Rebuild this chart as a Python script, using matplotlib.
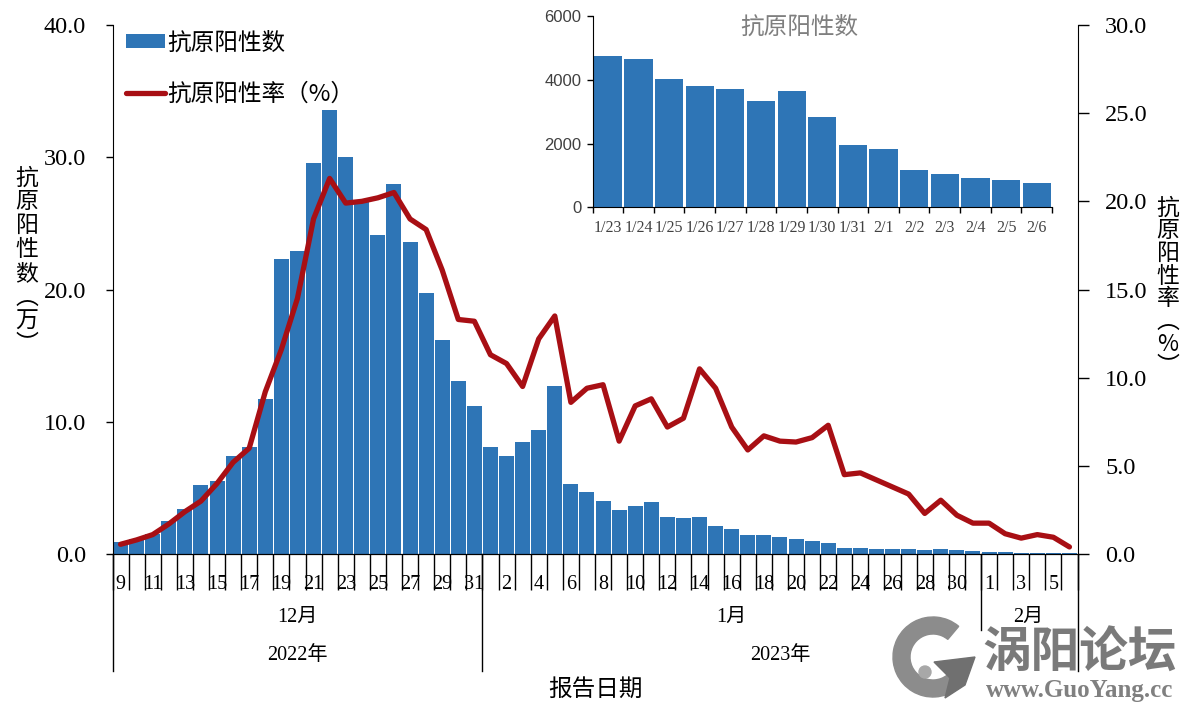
import numpy as np
import matplotlib
matplotlib.use("Agg")
import matplotlib.pyplot as plt
from matplotlib.patches import Wedge, Circle, Polygon

plt.rcParams['font.family'] = ['Liberation Serif', 'Noto Sans CJK SC']

# Dane
days = [str(d) for d in range(9, 32)] + [str(d) for d in range(1, 32)] + [str(d) for d in range(1, 7)]
positive_count = [0.9, 1.1, 1.5, 2.5, 3.4, 5.2, 5.5, 7.4, 8.1, 11.7, 22.3, 22.9, 29.6, 33.6, 30.0, 26.6, 24.1, 28.0,
                  23.6, 19.7, 16.2, 13.1, 11.2, 8.1, 7.4, 8.5, 9.4, 12.7, 5.3, 4.7, 4.0, 3.3, 3.65, 3.9, 2.8, 2.7,
                  2.8, 2.15, 1.9, 1.45, 1.45, 1.3, 1.15, 0.95, 0.8, 0.48, 0.47, 0.40, 0.38, 0.37, 0.33, 0.37, 0.28,
                  0.20, 0.18, 0.12, 0.10, 0.09, 0.09, 0.08]
positive_rate = [0.55, 0.8, 1.1, 1.7, 2.4, 3.0, 4.0, 5.2, 6.0, 9.2, 11.6, 14.5, 19.0, 21.3, 19.9, 20.0, 20.2, 20.5,
                 19.0, 18.4, 16.1, 13.3, 13.2, 11.3, 10.8, 9.5, 12.2, 13.5, 8.6, 9.4, 9.6, 6.4, 8.4, 8.8, 7.2, 7.7,
                 10.5, 9.4, 7.2, 5.9, 6.7, 6.4, 6.35, 6.6, 7.3, 4.5, 4.6, 4.2, 3.8, 3.4, 2.3, 3.05, 2.2, 1.75, 1.75,
                 1.15, 0.9, 1.1, 0.95, 0.4]
inset_dates = ["1/23", "1/24", "1/25", "1/26", "1/27", "1/28", "1/29", "1/30", "1/31", "2/1", "2/2", "2/3", "2/4",
               "2/5", "2/6"]
inset_count = [4750, 4650, 4030, 3800, 3720, 3350, 3650, 2840, 1960, 1830, 1170, 1040, 920, 860, 760]
left_ticks = [0, 10, 20, 30, 40]
right_ticks = [0, 5, 10, 15, 20, 25, 30]
inset_ticks = [0, 2000, 4000, 6000]
month_ends = [23, 54]  # indeks pierwszego dnia nowego miesiaca

W, H = 1191, 710
BLUE = "#2e75b6"
RED = "#a80f14"
CJK = "Noto Sans CJK SC"


def box(x0, y0, x1, y1):
    # piksele obrazu -> ulamki figury
    return [x0 / W, 1 - y1 / H, (x1 - x0) / W, (y1 - y0) / H]


def px(x, y):
    return x / W, 1 - y / H


fig = plt.figure(figsize=(W / 100, H / 100), dpi=100)
ax = fig.add_axes(box(112.5, 25, 1077.5, 554))
x = np.arange(len(days))

bars = ax.bar(x, positive_count, width=0.93, color=BLUE, label="抗原阳性数")
ax.set_xlim(-0.5, len(days) - 0.5)
ax.set_ylim(0, 40)
ax.set_yticks(left_ticks)
ax.set_yticklabels([f"{v:.1f}" for v in left_ticks], fontsize=17.5)
ax.tick_params(axis='y', length=5, width=1, pad=14)
ax.spines['top'].set_visible(False)
ax.spines['right'].set_visible(False)

# Os X: kreski miedzy dniami, podpisy co drugi dzien
ax.set_xticks(np.arange(len(days) + 1) - 0.5)
ax.set_xticklabels([])
ax.tick_params(axis='x', which='major', length=26, width=1)
ax.set_xticks(x[::2], days[::2], minor=True)
ax.tick_params(axis='x', which='minor', length=0, pad=15, labelsize=14.5)

ax2 = ax.twinx()
line, = ax2.plot(x, positive_rate, color=RED, lw=3.8, solid_capstyle='round', label="抗原阳性率（%）")
ax2.set_ylim(0, 30)
ax2.set_yticks(right_ticks)
ax2.set_yticklabels([f"{v:.1f}" for v in right_ticks], fontsize=17.5)
ax2.tick_params(axis='y', length=8, width=1, pad=12)
ax2.spines['top'].set_visible(False)
ax2.spines['left'].set_visible(False)

# Dlugie kreski pod osia (miesiace, lata)
trans = ax.get_xaxis_transform()
depth_short = -(630 - 554) / (554 - 25)
depth_long = -(671 - 554) / (554 - 25)
for xpos, depth in [(-0.5, depth_long), (month_ends[0] - 0.5, depth_long), (month_ends[1] - 0.5, depth_short),
                    (len(days) - 0.5, depth_long)]:
    ax.plot([xpos, xpos], [0, depth], transform=trans, color="black", lw=1, clip_on=False)

# Legenda
handles = [bars, line]
ax2.legend(handles, ["抗原阳性数", "抗原阳性率（%）"], loc='upper left', bbox_to_anchor=(0.0143, 0.988), frameon=False,
           prop={'family': CJK, 'size': 17}, labelspacing=1.2, handlelength=1.65, handleheight=0.55,
           handletextpad=0.1, borderaxespad=0.0, borderpad=0.0)

# Podpisy miesiecy, lat i osi
for label, xp, yp in [("12月", 297, 617), ("1月", 731, 617), ("2月", 1028, 617), ("2022年", 297, 656),
                      ("2023年", 780, 656)]:
    fig.text(*px(xp, yp), label, ha='center', va='center', fontsize=14.5)
fig.text(*px(595, 689), "报告日期", ha='center', va='center', fontsize=17, family=CJK)

for chars, xp in [("抗原阳性数︵万︶", 27), ("抗原阳性率︵%︶", 1168)]:
    ys = np.linspace(178, 345, len(chars)) if xp == 27 else np.linspace(208, 367, len(chars))
    for ch, yp in zip(chars, ys):
        fig.text(*px(xp, yp), ch, ha='center', va='center', fontsize=16.5, family=CJK)

# Wykres wstawiony
inset = fig.add_axes(box(592.5, 16, 1052, 207.5))
inset.patch.set_alpha(0)
xi = np.arange(len(inset_dates))
inset.bar(xi, inset_count, width=0.92, color=BLUE)
inset.set_xlim(-0.5, len(inset_dates) - 0.5)
inset.set_ylim(0, 6000)
inset.set_yticks(inset_ticks)
inset.set_yticklabels([str(v) for v in inset_ticks], fontsize=12, color="#404040", family="Liberation Sans")
inset.tick_params(axis='y', length=4, width=1, pad=4)
inset.set_xticks(np.arange(len(inset_dates) + 1) - 0.5)
inset.set_xticklabels([])
inset.tick_params(axis='x', which='major', length=4, width=1)
inset.set_xticks(xi, inset_dates, minor=True)
inset.tick_params(axis='x', which='minor', length=0, pad=9, labelsize=11.5, labelcolor="#404040")
inset.spines['top'].set_visible(False)
inset.spines['right'].set_visible(False)
fig.text(*px(799, 27), "抗原阳性数", ha='center', va='center', fontsize=17, color="#7f7f7f", family=CJK)

# Znak wodny
logo = fig.add_axes([0, 0, 1, 1], facecolor='none')
logo.set_xlim(0, W)
logo.set_ylim(H, 0)
logo.axis('off')
logo.add_patch(Wedge((933, 657), 40, 35, 310, width=17, color="#8c8c8c"))
logo.add_patch(Polygon([[934, 662], [975, 657], [965, 685], [945, 698], [950, 678]], color="#707070"))
logo.add_patch(Circle((925, 672), 6, color="#a8a8a8"))
fig.text(*px(1080, 653), "涡阳论坛", ha='center', va='center', fontsize=35, color="#7a7a7a", fontweight='bold',
         family=CJK)
fig.text(*px(1080, 691), "www.GuoYang.cc", ha='center', va='center', fontsize=18, color="#808080",
         fontweight='bold', family="Liberation Serif")

fig.savefig("out.png", dpi=100)
